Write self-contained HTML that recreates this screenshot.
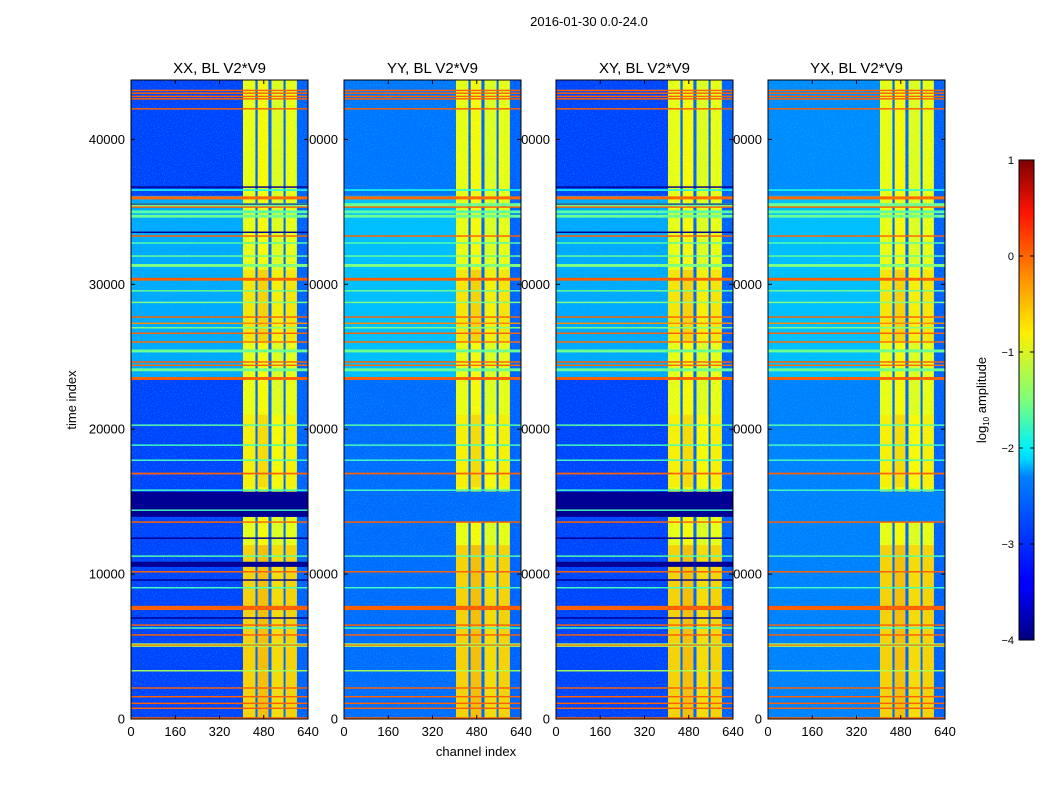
<!DOCTYPE html>
<html><head><meta charset="utf-8"><style>
html,body{margin:0;padding:0;background:#fff;}
svg{display:block;font-family:"Liberation Sans",sans-serif;}
</style></head><body>
<svg id="fig" width="1050" height="800" viewBox="0 0 1050 800">
<defs>
<linearGradient id="jet" x1="0" y1="1" x2="0" y2="0">
<stop offset="0" stop-color="#00007f"/><stop offset="0.11" stop-color="#0000ff"/><stop offset="0.125" stop-color="#0000ff"/>
<stop offset="0.34" stop-color="#0080ff"/><stop offset="0.375" stop-color="#00d4ff"/><stop offset="0.4" stop-color="#00f0f8"/>
<stop offset="0.5" stop-color="#7dff7a"/><stop offset="0.64" stop-color="#ffef00"/><stop offset="0.75" stop-color="#ff9400"/>
<stop offset="0.89" stop-color="#ff1300"/><stop offset="1" stop-color="#7f0000"/></linearGradient>
<filter id="speckle" x="0" y="0" width="100%" height="100%">
<feTurbulence type="fractalNoise" baseFrequency="0.9" numOctaves="1" seed="3"/>
<feColorMatrix type="matrix" values="0 0 0 0 0  0 0 0 0 0.9  0 0 0 0 1  0 0 0 3 -1.6"/>
</filter>
</defs>
<text x="589" y="26" font-size="13" text-anchor="middle">2016-01-30 0.0-24.0</text>
<g id="labels"></g>
<g id="panels"></g>
<text x="476" y="756" font-size="13" text-anchor="middle">channel index</text>
<text transform="translate(76,400) rotate(-90)" font-size="13" text-anchor="middle">time index</text>
<g>
<rect x="1019" y="160" width="15" height="480" fill="url(#jet)" stroke="#000" stroke-width="1"/>
<g id="cbticks"></g>
<text transform="translate(986,400) rotate(-90)" font-size="13" text-anchor="middle">log<tspan font-size="8" dy="3">10</tspan><tspan dy="-3"> amplitude</tspan></text>
</g>
</svg>
<script>
// ---- data ----
const panelNames = ["XX, BL V2*V9","YY, BL V2*V9","XY, BL V2*V9","YX, BL V2*V9"];
const xTicks = [0,160,320,480,640];
const yTicks = [0,10000,20000,30000,40000];
const cbTicks = [1,0,-1,-2,-3,-4];
// background levels per panel: [t0,t1,log amp]
const bgXX = [[0,23500,-3.05],[23500,36100,-2.55],[36100,44100,-3.05]];
const bgYY = [[0,23500,-2.85],[23500,36100,-2.45],[36100,44100,-2.8]];
const bgXY = [[0,23500,-3.05],[23500,36100,-2.55],[36100,44100,-3.05]];
const bgYX = [[0,23500,-2.75],[23500,36100,-2.45],[36100,44100,-2.7]];
// bright channel stripes [ch0,ch1,log amp]
const stripes = [[405,450,-0.95],[450,458,-2.9],[458,497,-0.85],[497,508,-2.9],[508,552,-1.0],[552,559,-2.9],[559,600,-0.95],[600,640,-2.9]];
// time ranges where stripes are present (pol-dependent)
const stripeTimesXX = [[0,13950],[15680,44100]];
const stripeTimesYY = [[0,13600],[15700,44100]];
// stripe brightening (orange blocks) [t0,t1,delta]
const stripeBoost = [[0,12000,0.3],[26000,31000,0.2],[16000,21000,0.15]];
// shared RFI rows [t0,t1,log amp]
const rows = [[43330,43430,-0.1],[43140,43240,-0.1],[42920,43020,-0.1],[42750,42850,-0.1],[42060,42160,-0.1],
[36450,36560,-2.0],[35860,36070,-0.15],[35300,35600,-1.6],[35280,35380,-0.1],[34900,35100,-1.7],[34600,34800,-1.6],
[33280,33380,-0.1],[32800,32900,-1.7],[31900,32000,-1.6],[31200,31400,-1.5],[30250,30450,-0.1],[29500,29600,-1.6],
[28700,28800,-1.5],[27690,27790,-0.1],[27260,27360,-0.3],[26950,27050,-1.5],[26570,26670,-0.1],[25970,26070,-0.15],
[25300,25500,-1.6],[24590,24690,-0.1],[24360,24460,-0.15],[24000,24200,-1.6],[23400,23600,-0.1],
[20230,20330,-1.7],[18850,18950,-1.8],[17810,17910,-1.8],[16880,17000,-0.1],[15740,15840,-1.8],
[13540,13640,-0.1],[11190,11290,-1.7],[10110,10210,-0.1],[9010,9110,-1.8],[7520,7810,-0.1],
[6430,6530,-0.1],[6230,6330,-1.8],[5750,5850,-0.1],[4980,5220,-1.3],[5060,5140,-0.1],[3280,3380,-1.3],
[2090,2190,-0.1],[1490,1590,-0.1],[1030,1130,-0.1],[690,790,-0.1],[0,120,-0.1]];
// flagged (zeroed) rows in XX/XY only
const flagRows = [[13950,15680,-3.9],[36660,36760,-3.9],[35500,35570,-3.9],[33540,33640,-3.9],[12430,12530,-3.9],
[10500,10850,-3.9],[9540,9640,-3.9],[6920,7020,-3.9]];
const flagCyan = [[14360,14460,-1.8]];

// ---- axes ----
const lefts=[131,344,556,768], W=177, Y0=719, Y1=80, TMAX=44100, CHMAX=640;
const xs=(l,c)=>l+c/CHMAX*W;
const ys=t=>Y0-(t/TMAX)*(Y0-Y1);
function jet(v){const t=Math.max(0,Math.min(1,(v+4)/5));const c=x=>Math.round(255*Math.max(0,Math.min(1,1.5-Math.abs(x))));
return `rgb(${c(4*t-3)},${c(4*t-2)},${c(4*t-1)})`;}
const NS="http://www.w3.org/2000/svg";
function mk(tag,attrs,parent){const e=document.createElementNS(NS,tag);for(const k in attrs)e.setAttribute(k,attrs[k]);parent.appendChild(e);return e;}
const panels=document.getElementById('panels'), labels=document.getElementById('labels');
const bgs=[bgXX,bgYY,bgXY,bgYX];
panelNames.forEach((name,p)=>{
  const L=lefts[p]; const flagged=(p===0||p===2);
  yTicks.forEach(t=>{const tx=mk('text',{x:L-6,y:ys(t)+4.5,'font-size':13,'text-anchor':'end'},labels);tx.textContent=t;
    
    });
  xTicks.forEach(c=>{const tx=mk('text',{x:xs(L,c),y:736,'font-size':13,'text-anchor':'middle'},labels);tx.textContent=c;
    
    });
  const g=mk('g',{},panels);
  
  
  const rect=(c0,c1,t0,t1,v,nm)=>{const r=mk('rect',{x:xs(L,c0),y:ys(t1),width:xs(L,c1)-xs(L,c0),height:Math.max(1,ys(t0)-ys(t1)),fill:jet(v)},g);
    
    };
  bgs[p].forEach(b=>rect(0,CHMAX,b[0],b[1],b[2],'background-region'));
  const st=flagged?stripeTimesXX:stripeTimesYY;
  st.forEach(tr=>stripes.forEach(s=>{
    rect(s[0],s[1],tr[0],tr[1],s[2],'channel-stripe');
    if(s[2]>-1.5) stripeBoost.forEach(b=>{const a=Math.max(tr[0],b[0]),z=Math.min(tr[1],b[1]);if(z>a)rect(s[0],s[1],a,z,s[2]+b[2],'stripe-boost');});
  }));
  const nz=mk('rect',{x:L,y:Y1,width:W,height:Y0-Y1,filter:'url(#speckle)',opacity:0.45},g);
  
  
  rows.forEach(r=>rect(0,CHMAX,r[0],r[1],r[2],'rfi-row'));
  if(flagged){flagRows.forEach(r=>rect(0,CHMAX,r[0],r[1],r[2],'flagged-row'));flagCyan.forEach(r=>rect(0,CHMAX,r[0],r[1],r[2],'rfi-row'));}
  mk('rect',{x:L,y:Y1,width:W,height:Y0-Y1,fill:'none',stroke:'#000','stroke-width':1},g);
  yTicks.forEach(t=>{mk('line',{x1:L,x2:L+4,y1:ys(t),y2:ys(t),stroke:'#000'},g);mk('line',{x1:L+W-4,x2:L+W,y1:ys(t),y2:ys(t),stroke:'#000'},g);});
  xTicks.forEach(c=>{mk('line',{x1:xs(L,c),x2:xs(L,c),y1:Y0,y2:Y0-4,stroke:'#000'},g);mk('line',{x1:xs(L,c),x2:xs(L,c),y1:Y1,y2:Y1+4,stroke:'#000'},g);});
  const tt=mk('text',{x:L+W/2,y:73,'font-size':15,'text-anchor':'middle'},panels);tt.textContent=name;
  
  
});
const cb=document.getElementById('cbticks');
cbTicks.forEach(v=>{const y=160+(1-v)/5*480;
  mk('line',{x1:1019,x2:1023,y1:y,y2:y,stroke:'#000'},cb);mk('line',{x1:1030,x2:1034,y1:y,y2:y,stroke:'#000'},cb);
  const t=mk('text',{x:1014,y:y+4,'font-size':11,'text-anchor':'end'},cb);t.textContent=v<0?'\u2212'+(-v):v;
  
  });
</script>
</body></html>
